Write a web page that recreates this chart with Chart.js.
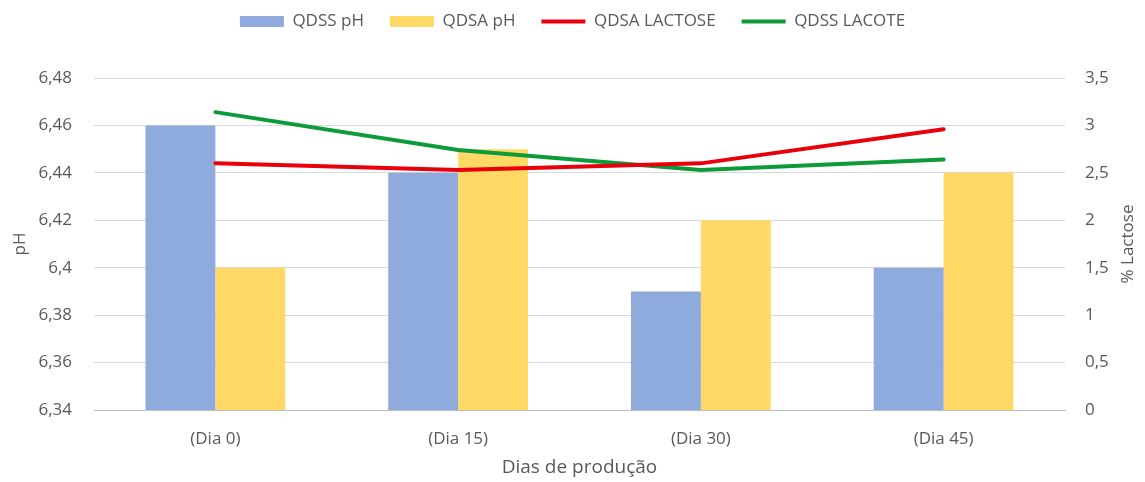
<!DOCTYPE html>
<html lang="pt">
<head>
  <meta charset="UTF-8">
  <title>pH e Lactose</title>
  <script src="https://cdn.jsdelivr.net/npm/chart.js"></script>
  <style>
    body { margin: 0; background: #fff; }
    #wrap { width: 1145px; height: 482px; }
  </style>
</head>
<body>
  <div id="wrap"><canvas id="chart"></canvas></div>
  <script>
    const labels = ['(Dia 0)', '(Dia 15)', '(Dia 30)', '(Dia 45)'];
    const qdssPh = [6.46, 6.44, 6.39, 6.40];
    const qdsaPh = [6.40, 6.45, 6.42, 6.44];
    const qdsaLactose = [2.60, 2.53, 2.60, 2.96];
    const qdssLacote = [3.14, 2.74, 2.53, 2.64];

    const txt = '#595959';
    const fam = 'Open Sans';
    const comma = v => String(Math.round(v * 100) / 100).replace('.', ',');

    function vText(ctx, text, x, y) {
      ctx.save();
      ctx.translate(x, y);
      ctx.rotate(-Math.PI / 2);
      ctx.fillStyle = txt;
      ctx.font = '17px "' + fam + '"';
      ctx.textAlign = 'center';
      ctx.textBaseline = 'middle';
      ctx.fillText(text, 0, 0);
      ctx.restore();
    }

    // both axis titles read bottom-to-top; legend gets extra room below it
    const extras = {
      id: 'extras',
      beforeInit(chart) {
        const fit = chart.legend.fit;
        chart.legend.fit = function () {
          fit.call(this);
          this.height = 91;
        };
      },
      afterDraw(chart) {
        const { ctx, chartArea } = chart;
        const mid = (chartArea.top + chartArea.bottom) / 2;
        vText(ctx, 'pH', 20, mid);
        vText(ctx, '% Lactose', 1128, mid);
      }
    };

    new Chart(document.getElementById('chart'), {
      data: {
        labels: labels,
        datasets: [
          { type: 'bar', label: 'QDSS pH', data: qdssPh, backgroundColor: '#8FAADC', yAxisID: 'y', order: 2, pointStyle: 'rect',
            categoryPercentage: 0.576, barPercentage: 1.0 },
          { type: 'bar', label: 'QDSA pH', data: qdsaPh, backgroundColor: '#FFD966', yAxisID: 'y', order: 2, pointStyle: 'rect',
            categoryPercentage: 0.576, barPercentage: 1.0 },
          { type: 'line', label: 'QDSA LACTOSE', data: qdsaLactose, borderColor: '#E8000B', backgroundColor: '#E8000B', borderWidth: 4,
            pointRadius: 0, tension: 0, yAxisID: 'y1', order: 1, pointStyle: 'line', borderCapStyle: 'round' },
          { type: 'line', label: 'QDSS LACOTE', data: qdssLacote, borderColor: '#0D9B3A', backgroundColor: '#0D9B3A', borderWidth: 4,
            pointRadius: 0, tension: 0, yAxisID: 'y1', order: 1, pointStyle: 'line', borderCapStyle: 'round' }
        ]
      },
      plugins: [extras],
      options: {
        responsive: true,
        maintainAspectRatio: false,
        animation: false,
        layout: { padding: { top: -13, left: 0, right: 0, bottom: 0 } },
        plugins: {
          tooltip: { enabled: false },
          legend: {
            position: 'top',
            labels: {
              color: txt,
              font: { family: fam, size: 17 },
              usePointStyle: true,
              pointStyleWidth: 44,
              boxHeight: 11,
              padding: 26,
              sort: (a, b) => a.datasetIndex - b.datasetIndex
            }
          }
        },
        scales: {
          x: {
            afterFit: s => { s.height = 72; },
            grid: { display: false },
            border: { color: '#BFBFBF' },
            ticks: { color: txt, font: { family: fam, size: 17 }, padding: 11 },
            title: { display: true, text: 'Dias de produção', color: txt, font: { family: fam, size: 19 }, padding: { top: 4, bottom: 3 } }
          },
          y: {
            position: 'left',
            min: 6.34, max: 6.48,
            afterFit: s => { s.width = 94; },
            ticks: { stepSize: 0.02, color: txt, font: { family: fam, size: 17 }, padding: 22, callback: comma },
            grid: { color: '#D9D9D9', drawTicks: false },
            border: { display: false }
          },
          y1: {
            position: 'right',
            min: 0, max: 3.5,
            afterFit: s => { s.width = 80; },
            ticks: { stepSize: 0.5, color: txt, font: { family: fam, size: 17 }, padding: 20, callback: comma },
            grid: { display: false, drawTicks: false },
            border: { display: false }
          }
        }
      }
    });
  </script>
</body>
</html>
